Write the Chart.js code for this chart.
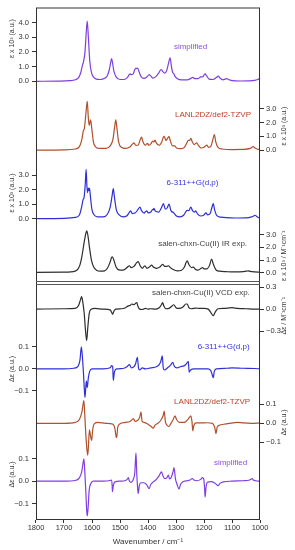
<!DOCTYPE html>
<html>
<head>
<meta charset="utf-8">
<script src="https://cdn.jsdelivr.net/npm/chart.js@4.4.1/dist/chart.umd.min.js"></script>
<style>
  html, body { margin: 0; padding: 0; background: #fff; }
  #box { width: 295px; height: 550px; }
</style>
</head>
<body>
<div id="box"><canvas id="spectra"></canvas></div>
<script>
var spectraEl = document.getElementById('spectra'); // one canvas holds all eight stacked panels
var ctx = spectraEl.getContext('2d');

// tick values
var wavenumberTicks = [1800, 1700, 1600, 1500, 1400, 1300, 1200, 1100, 1000];
var irTicksTop = [0, 1, 2, 3, 4];
var irTicks = [0, 1, 2, 3];
var vcdExpTicks = [-0.3, 0, 0.3];
var vcdTicks = [-0.1, 0, 0.1];

// IR spectra, [wavenumber / cm-1, eps x 10^3]
var irSimplified = [[1800,0],[1720,0.01],[1680,0.04],[1660,0.1],[1648,0.25],[1640,0.6],[1634,1.1],[1630,1.35],[1625,2.0],[1621,3.2],[1617,4.1],[1613,3.0],[1608,1.4],[1602,0.6],[1595,0.3],[1585,0.15],[1570,0.12],[1555,0.2],[1545,0.4],[1538,0.8],[1533,1.3],[1530,1.55],[1527,1.3],[1522,0.7],[1514,0.3],[1500,0.12],[1485,0.12],[1474,0.25],[1467,0.45],[1464,0.5],[1460,0.45],[1453,0.5],[1447,0.8],[1443,0.9],[1440,0.86],[1437,0.9],[1432,0.65],[1424,0.3],[1415,0.2],[1405,0.28],[1398,0.42],[1395,0.45],[1391,0.38],[1383,0.22],[1373,0.3],[1362,0.55],[1355,0.78],[1352,0.8],[1347,0.65],[1340,0.55],[1333,0.75],[1327,1.2],[1321,1.6],[1317,1.1],[1312,0.6],[1309,0.55],[1304,0.35],[1295,0.18],[1280,0.1],[1260,0.1],[1248,0.18],[1240,0.27],[1233,0.18],[1222,0.18],[1214,0.28],[1211,0.3],[1205,0.3],[1199,0.45],[1196,0.5],[1191,0.38],[1182,0.15],[1168,0.12],[1156,0.25],[1149,0.35],[1143,0.22],[1133,0.1],[1124,0.15],[1119,0.18],[1113,0.12],[1100,0.05],[1070,0.02],[1040,0.03],[1020,0.06],[1010,0.1],[1000,0.2]];
var irLanl = [[1800,0],[1700,0.02],[1660,0.08],[1645,0.25],[1636,0.8],[1631,1.4],[1627,1.6],[1622,2.6],[1617,3.55],[1613,2.3],[1610,1.8],[1605,2.2],[1601,1.6],[1595,0.6],[1588,0.25],[1575,0.12],[1550,0.12],[1535,0.3],[1525,0.8],[1519,1.7],[1515,2.2],[1511,1.6],[1505,0.6],[1495,0.2],[1480,0.12],[1465,0.22],[1455,0.45],[1450,0.53],[1444,0.35],[1435,0.35],[1428,0.75],[1423,0.94],[1418,0.6],[1410,0.35],[1405,0.45],[1402,0.48],[1397,0.35],[1390,0.45],[1383,0.65],[1379,0.6],[1375,0.72],[1370,0.5],[1360,0.35],[1350,0.65],[1345,0.95],[1342,1.0],[1336,0.7],[1330,0.85],[1325,1.0],[1320,0.65],[1312,0.3],[1305,0.3],[1298,0.15],[1285,0.1],[1270,0.2],[1262,0.5],[1256,0.7],[1251,0.7],[1247,0.85],[1242,0.6],[1235,0.4],[1226,0.53],[1220,0.35],[1210,0.15],[1200,0.2],[1193,0.34],[1190,0.36],[1184,0.2],[1175,0.3],[1168,0.8],[1163,1.13],[1158,0.6],[1150,0.2],[1135,0.08],[1100,0.04],[1060,0.05],[1035,0.12],[1028,0.22],[1024,0.25],[1018,0.15],[1008,0.06],[1000,0.04]];
var irPople = [[1800,0],[1700,0.02],[1660,0.08],[1645,0.25],[1637,0.8],[1632,1.3],[1628,1.5],[1624,2.4],[1621,3.4],[1618,2.2],[1616,1.8],[1613,2.1],[1611,1.95],[1609,2.1],[1605,1.4],[1600,0.6],[1592,0.25],[1580,0.12],[1560,0.12],[1545,0.3],[1535,0.8],[1528,1.6],[1524,2.07],[1520,1.5],[1513,0.6],[1503,0.25],[1490,0.12],[1475,0.2],[1466,0.45],[1462,0.53],[1456,0.35],[1445,0.4],[1435,0.65],[1429,0.8],[1423,0.55],[1414,0.38],[1408,0.5],[1405,0.53],[1399,0.4],[1390,0.45],[1383,0.64],[1381,0.6],[1379,0.7],[1373,0.5],[1362,0.45],[1352,0.75],[1345,1.03],[1338,0.65],[1331,0.75],[1325,1.0],[1318,0.55],[1308,0.4],[1300,0.2],[1285,0.12],[1272,0.25],[1264,0.5],[1260,0.57],[1254,0.55],[1247,0.8],[1241,0.55],[1234,0.45],[1230,0.53],[1224,0.35],[1212,0.18],[1200,0.25],[1193,0.4],[1187,0.25],[1178,0.35],[1172,0.75],[1167,1.03],[1162,0.6],[1154,0.2],[1140,0.1],[1120,0.06],[1090,0.04],[1050,0.05],[1030,0.12],[1021,0.2],[1017,0.23],[1012,0.15],[1004,0.06],[1000,0.04]];
var irExp = [[1800,0.02],[1700,0.04],[1660,0.12],[1645,0.5],[1636,1.3],[1628,2.4],[1622,3.1],[1619,3.3],[1615,3.0],[1609,2.0],[1602,1.0],[1594,0.45],[1584,0.2],[1570,0.12],[1555,0.15],[1545,0.35],[1536,0.8],[1530,1.2],[1527,1.26],[1522,1.0],[1514,0.45],[1504,0.22],[1490,0.2],[1478,0.35],[1470,0.52],[1467,0.55],[1460,0.4],[1450,0.5],[1441,0.78],[1435,0.87],[1428,0.55],[1420,0.35],[1414,0.5],[1411,0.55],[1404,0.35],[1395,0.45],[1387,0.6],[1381,0.45],[1370,0.35],[1358,0.45],[1348,0.66],[1340,0.5],[1332,0.5],[1327,0.55],[1320,0.4],[1310,0.25],[1295,0.15],[1280,0.2],[1270,0.45],[1264,0.8],[1260,0.94],[1254,0.65],[1244,0.4],[1238,0.45],[1232,0.3],[1222,0.2],[1210,0.35],[1205,0.4],[1199,0.3],[1190,0.3],[1180,0.6],[1173,1.08],[1167,0.7],[1158,0.25],[1145,0.12],[1120,0.08],[1090,0.06],[1060,0.08],[1048,0.12],[1042,0.15],[1035,0.1],[1020,0.06],[1000,0.05]];

// VCD spectra, [wavenumber / cm-1, delta eps]
var vcdExp = [[1800,0],[1700,0.005],[1660,0.01],[1648,0.05],[1641,0.13],[1637,0.17],[1633,0.1],[1628,-0.05],[1623,-0.3],[1619,-0.43],[1615,-0.25],[1610,-0.06],[1603,0],[1590,0.01],[1560,0],[1535,-0.01],[1529,-0.05],[1526,-0.07],[1522,-0.03],[1515,0],[1495,0.005],[1480,0.02],[1470,0.045],[1464,0.05],[1458,0.07],[1450,0.06],[1444,0.08],[1440,0.09],[1436,0.04],[1430,0],[1420,-0.005],[1410,0.01],[1400,0],[1390,0.005],[1375,0],[1360,0.02],[1352,0.06],[1348,0.09],[1343,0.04],[1336,0.005],[1325,0.01],[1315,0.04],[1308,0.06],[1300,0.02],[1290,0.01],[1275,0.03],[1265,0.07],[1260,0.07],[1254,0.02],[1245,0.005],[1230,0.015],[1215,0.01],[1200,0.01],[1185,0],[1175,-0.05],[1167,-0.09],[1160,-0.04],[1150,0.005],[1130,0.01],[1100,0.02],[1080,0.01],[1050,0.005],[1020,0],[1000,0]];
var vcdPople = [[1800,0],[1700,0],[1665,0.003],[1650,0.012],[1643,0.04],[1638,0.1],[1634,0.05],[1630,-0.03],[1627,-0.1],[1625,-0.13],[1622,-0.08],[1620,-0.055],[1617,-0.085],[1613,-0.04],[1608,-0.01],[1600,0],[1560,0],[1535,0.005],[1530,0.015],[1526,0.01],[1524,-0.052],[1520,-0.015],[1512,0],[1490,0.002],[1475,0.01],[1466,0.02],[1460,0.005],[1450,0.01],[1444,0.025],[1438,0.053],[1434,0.005],[1430,-0.005],[1420,0.005],[1410,0],[1390,0.005],[1370,0.01],[1360,0.02],[1354,0.035],[1349,0.06],[1346,0.01],[1342,-0.005],[1330,0.005],[1318,0.02],[1312,0.03],[1306,0.012],[1296,0.005],[1285,0.01],[1270,0.015],[1262,0.025],[1256,0.035],[1253,-0.015],[1248,-0.005],[1235,0],[1210,0],[1185,0],[1175,-0.01],[1170,-0.03],[1167,-0.04],[1163,-0.01],[1155,0],[1120,0.003],[1100,0.005],[1060,0.003],[1020,0.002],[1000,0]];
var vcdLanl = [[1800,0],[1700,0],[1660,0.005],[1645,0.02],[1636,0.06],[1632,0.1],[1629,0.12],[1626,0.05],[1622,-0.06],[1618,-0.14],[1615,-0.168],[1612,-0.1],[1609,-0.035],[1606,-0.06],[1601,-0.09],[1598,-0.04],[1593,-0.005],[1580,0.005],[1550,0],[1525,-0.005],[1518,-0.03],[1514,-0.07],[1512,-0.075],[1508,-0.02],[1500,-0.002],[1480,0.005],[1465,0.01],[1456,0.02],[1452,0.025],[1446,0.01],[1438,0.015],[1430,0.03],[1425,0.06],[1421,0.01],[1414,0.005],[1400,-0.005],[1390,-0.015],[1381,-0.025],[1375,-0.01],[1365,0],[1355,0.015],[1346,0.04],[1342,0.065],[1338,0.01],[1332,-0.01],[1326,-0.016],[1318,0],[1310,0.02],[1304,0.04],[1298,0.02],[1288,0.005],[1270,0.005],[1258,0.02],[1250,0.035],[1247,0.04],[1243,0.01],[1240,-0.04],[1236,-0.01],[1228,0.002],[1210,0.002],[1190,0.003],[1170,0],[1162,-0.02],[1157,-0.054],[1153,-0.02],[1145,-0.01],[1130,-0.005],[1110,0],[1080,0.005],[1060,0.002],[1030,0],[1000,0.002]];
var vcdSimplified = [[1800,0],[1700,0],[1660,0.003],[1645,0.015],[1637,0.04],[1632,0.08],[1629,0.1],[1626,0.05],[1622,-0.05],[1619,-0.13],[1617,-0.155],[1614,-0.12],[1610,-0.04],[1604,-0.01],[1595,0],[1560,0],[1535,0.003],[1530,0.005],[1528,-0.02],[1527,-0.047],[1524,-0.02],[1518,-0.003],[1500,0],[1480,0.003],[1473,0.01],[1470,0.016],[1467,0.002],[1460,-0.005],[1452,0.01],[1447,0.04],[1443,0.126],[1440,0.03],[1437,-0.03],[1435,-0.055],[1431,-0.02],[1425,-0.007],[1415,-0.007],[1405,-0.015],[1396,-0.033],[1390,-0.015],[1380,-0.002],[1370,0.008],[1360,0.025],[1352,0.041],[1347,0.025],[1340,0.012],[1333,0.015],[1327,0.027],[1323,0.01],[1316,0.02],[1310,0.045],[1307,0.06],[1302,0.01],[1296,-0.015],[1289,-0.035],[1284,-0.015],[1275,-0.003],[1260,0.002],[1250,0.005],[1242,0.012],[1236,0.005],[1225,0.002],[1212,0.008],[1206,0.016],[1201,0.01],[1198,-0.03],[1196,-0.07],[1193,-0.03],[1188,-0.005],[1175,-0.002],[1162,-0.008],[1155,-0.015],[1149,-0.02],[1143,-0.01],[1130,-0.003],[1100,0],[1060,0.002],[1040,0.004],[1033,0.008],[1028,0.012],[1024,0.005],[1015,0.002],[1000,0]];

// colours
var violet = '#7f3fe0';
var brick = '#b0502c';
var blue = '#2f2fd8';
var black = '#2e2e2e';

// panels, each with its own y axis; size = share of the plot height (px)
var panels = {
  irSimp: { side: 'left', size: 80, min: -0.407, max: 5.017, ticks: irTicksTop, data: irSimplified, color: violet,
            name: 'simplified', nameColor: '#8e4fe6', nameAt: [1248, 2.37], title: 'ε x 10³ (a.u.)', titleAt: 2.9 },
  irLanl: { side: 'right', size: 71, min: -0.58, max: 4.565, ticks: irTicks, data: irLanl, color: brick,
            name: 'LANL2DZ/def2-TZVP', nameColor: '#c0402a', nameAt: [1168, 2.6], title: 'ε x 10³ (a.u.)', titleAt: 1.74 },
  irPople: { side: 'left', size: 68, min: -0.503, max: 4.186, ticks: irTicks, data: irPople, color: blue,
            name: '6-311++G(d,p)', nameColor: '#3434e0', nameAt: [1241, 2.46], title: 'ε x 10³ (a.u.)', titleAt: 1.77 },
  irExp: { side: 'right', size: 55, min: -0.63, max: 3.701, ticks: irTicks, data: irExp, color: black,
            name: 'salen-chxn-Cu(II) IR exp.', nameColor: '#444', nameAt: [1205, 2.28], title: 'ε x 10³ / M⁻¹cm⁻¹', titleAt: 1.34 },
  vcdExp: { side: 'right', size: 52, min: -0.361, max: 0.348, ticks: vcdExpTicks, data: vcdExp, color: black,
            name: 'salen-chxn-Cu(II) VCD exp.', nameColor: '#444', nameAt: [1211, 0.225], title: 'Δε / M⁻¹cm⁻¹', titleAt: -0.09 },
  vcdPople: { side: 'left', size: 63, min: -0.134, max: 0.152, ticks: vcdTicks, data: vcdPople, color: blue,
            name: '6-311++G(d,p)', nameColor: '#3434e0', nameAt: [1130, 0.102], title: 'Δε (a.u.)', titleAt: 0 },
  vcdLanl: { side: 'right', size: 52, min: -0.142, max: 0.132, ticks: vcdTicks, data: vcdLanl, color: brick,
            name: 'LANL2DZ/def2-TZVP', nameColor: '#c0402a', nameAt: [1171, 0.116], title: 'Δε (a.u.)', titleAt: 0.005 },
  vcdSimp: { side: 'left', size: 70, min: -0.173, max: 0.138, ticks: vcdTicks, data: vcdSimplified, color: violet,
            name: 'simplified', nameColor: '#8e4fe6', nameAt: [1105, 0.084], title: 'Δε (a.u.)', titleAt: 0.03 }
};

// top-to-bottom order of each side; gap entries are empty filler axes
var leftStack = [['irSimp'], ['gapL1', 71], ['irPople'], ['gapL2', 110], ['vcdPople'], ['gapL3', 52], ['vcdSimp']];
var rightStack = [['gapR1', 80], ['irLanl'], ['gapR2', 68], ['irExp'], ['sepR', 3], ['vcdExp'], ['gapR3', 63], ['vcdLanl'], ['gapR4', 70]];

var fontFamily = "'Liberation Sans', Arial, sans-serif";
Chart.defaults.font.family = fontFamily;
Chart.defaults.color = '#333';

function tickText(v) {
    return v.toFixed(1).replace('-', '\u2212');
}

function yAxis(id, side, weight, size) {
    var p = panels[id];
    var axis = {
        type: 'linear',
        position: side,
        stack: side,
        stackWeight: p ? p.size : size,
        weight: weight,
        afterFit: function (scale) { scale.width = side === 'left' ? 30 : 35; },
        border: { display: false },
        grid: { display: false },
        ticks: { display: false }
    };
    if (p) {
        axis.min = p.min;
        axis.max = p.max;
        axis.afterBuildTicks = function (scale) {
            scale.ticks = p.ticks.map(function (v) { return { value: v }; });
        };
        axis.grid = { display: true, drawOnChartArea: false, drawTicks: true, tickLength: 4, color: '#333' };
        axis.ticks = { display: true, autoSkip: false, padding: side === 'left' ? 3 : 2, color: '#333',
                       font: { size: 7.5 }, callback: tickText };
    }
    return axis;
}

var scales = {
    x: {
        type: 'linear',
        position: 'bottom',
        reverse: true,
        min: 1000,
        max: 1800,
        afterBuildTicks: function (scale) {
            scale.ticks = wavenumberTicks.map(function (v) { return { value: v }; });
        },
        afterFit: function (scale) { scale.height = 30; },
        border: { display: false },
        grid: { drawOnChartArea: false, tickLength: 3, color: '#333' },
        ticks: { padding: 0, color: '#333', maxRotation: 0, autoSkip: false, font: { size: 7.5 },
                 callback: function (v) { return String(v); } },
        title: { display: true, text: 'Wavenumber / cm⁻¹', color: '#333', font: { size: 8 }, padding: { top: 0, bottom: 3 } }
    }
};
leftStack.forEach(function (entry, i) {   // left axes: higher weight sits higher
    scales[entry[0]] = yAxis(entry[0], 'left', leftStack.length - i, entry[1]);
});
rightStack.forEach(function (entry, i) {  // right axes: lower weight sits higher
    scales[entry[0]] = yAxis(entry[0], 'right', i + 1, entry[1]);
});

var datasets = Object.keys(panels).map(function (id) {
    var p = panels[id];
    return {
        label: p.name,
        data: p.data.map(function (pt) { return { x: pt[0], y: pt[1] }; }),
        xAxisID: 'x',
        yAxisID: id,
        borderColor: p.color,
        borderWidth: 1.2,
        pointRadius: 0,
        cubicInterpolationMode: 'monotone',
        clip: false
    };
});

// frame, IR/VCD double rule, panel names and rotated axis titles
var decorations = {
    id: 'decorations',
    afterDatasetsDraw: function (chart) {
        var c = chart.ctx;
        var area = chart.chartArea;
        var xs = chart.scales.x;
        c.save();
        c.strokeStyle = '#333';
        c.lineWidth = 1;
        c.strokeRect(area.left + 0.5, area.top + 0.5, area.width - 1, area.height - 1);

        var sep = chart.scales.sepR;
        c.strokeStyle = '#555';
        [sep.top, sep.bottom].forEach(function (y) {
            c.beginPath();
            c.moveTo(area.left, Math.round(y) + 0.5);
            c.lineTo(area.right, Math.round(y) + 0.5);
            c.stroke();
        });

        Object.keys(panels).forEach(function (id) {
            var p = panels[id];
            var ys = chart.scales[id];
            c.fillStyle = p.nameColor;
            c.font = '8px ' + fontFamily;
            c.textAlign = 'center';
            c.textBaseline = 'middle';
            c.fillText(p.name, xs.getPixelForValue(p.nameAt[0]), ys.getPixelForValue(p.nameAt[1]));

            c.save();
            c.translate(p.side === 'left' ? 12 : 284, ys.getPixelForValue(p.titleAt));
            c.rotate(-Math.PI / 2);
            c.fillStyle = '#333';
            c.font = '7px ' + fontFamily;
            c.fillText(p.title, 0, 0);
            c.restore();
        });
        c.restore();
    }
};

var spectra = new Chart(ctx, {
    type: 'line',
    data: { datasets: datasets },
    options: {
        responsive: true,
        maintainAspectRatio: false,
        animation: false,
        layout: { padding: { left: 6, top: 6, right: 0, bottom: 0 } },
        plugins: { legend: { display: false }, tooltip: { enabled: false } },
        scales: scales
    },
    plugins: [decorations]
});
</script>
</body>
</html>
